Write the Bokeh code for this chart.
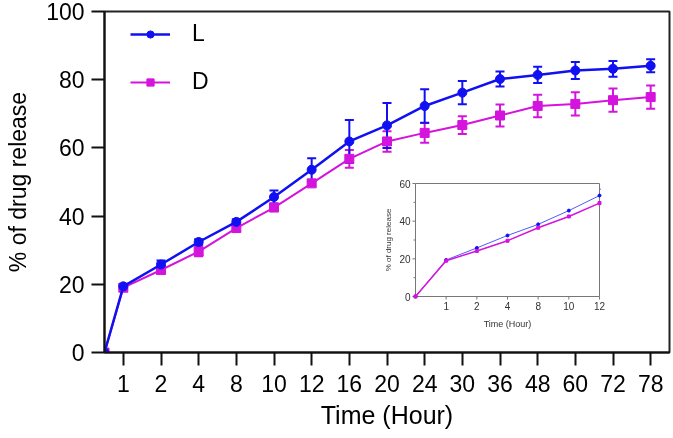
import math
from bokeh.plotting import figure
from bokeh.models import (FixedTicker, Whisker, ColumnDataSource, Legend, LegendItem,
                          Range1d, TeeHead)
from bokeh.embed import file_html
from bokeh.resources import INLINE

# ---- data ----
times = ["0", "1", "2", "4", "8", "10", "12", "16", "20", "24", "30", "36", "48", "60", "72", "78"]
L_mean = [0, 19.4, 25.8, 32.4, 38.3, 45.6, 53.6, 61.9, 66.6, 72.3, 76.2, 80.2, 81.4, 82.7, 83.2, 84.1]
L_err = [0, 0.6, 1.2, 0.8, 0.8, 1.9, 3.4, 6.3, 6.6, 4.9, 3.4, 2.2, 2.4, 2.5, 2.3, 1.9]
D_mean = [0, 19.0, 24.2, 29.6, 36.5, 42.5, 49.6, 56.8, 61.9, 64.4, 66.7, 69.5, 72.3, 72.9, 74.0, 74.9]
D_err = [0, 0.5, 0.9, 1.4, 0.9, 1.0, 0.8, 2.6, 3.0, 2.9, 2.6, 3.2, 3.3, 3.4, 3.4, 3.4]
y_ticks = [0, 20, 40, 60, 80, 100]
inset_n = 7                     # inset shows 0..12 h
inset_y_ticks = [0, 20, 40, 60]
inset_y_minor = [10, 30, 50]

BLUE = "#1010f2"
BLUE_L = "#4a5cff"
MAG = "#d414dc"
FONT = "Liberation Sans"
GREY = "#777777"

W, H = 673, 438
FL, FR, FT, FB = 104, 669, 11, 352      # main frame edges (px)
IL, IR, IT, IB = 415, 599, 183, 296     # inset frame edges (px)

xpos = [float(i) for i in range(len(times))]
xpos[0] = 0.5   # origin sits half a step left of "1"

def src(x, m, e):
    return ColumnDataSource(dict(x=x, y=m, up=[a + b for a, b in zip(m, e)],
                                 lo=[a - b for a, b in zip(m, e)]))

sL = src(xpos, L_mean, L_err)
sD = src(xpos, D_mean, D_err)

p = figure(width=W, height=H, output_backend="svg", toolbar_location=None,
           x_range=Range1d(0.5, len(times) - 0.5), y_range=Range1d(y_ticks[0], y_ticks[-1]),
           min_border_left=FL, min_border_right=W - FR, min_border_top=FT, min_border_bottom=H - FB)
p.styles = {"position": "fixed", "left": "0px", "top": "0px"}
p.grid.visible = False
p.outline_line_color = "#222222"
p.outline_line_width = 2
p.background_fill_color = "white"
p.border_fill_color = "white"

for ax in (p.xaxis[0], p.yaxis[0]):
    ax.axis_line_width = 2
    ax.axis_line_color = "#111111"
    ax.major_tick_line_width = 2
    ax.major_tick_line_color = "#111111"
    ax.major_tick_in = 0
    ax.major_tick_out = 13
    ax.minor_tick_line_color = None
    ax.major_label_text_font = FONT
    ax.major_label_text_font_size = "23px"
    ax.major_label_text_color = "black"
    ax.axis_label_text_font = FONT
    ax.axis_label_text_font_style = "normal"
    ax.axis_label_text_color = "black"

p.xaxis.ticker = FixedTicker(ticks=xpos[1:])
p.xaxis.major_label_overrides = {xpos[i]: times[i] for i in range(1, len(times))}
p.xaxis.major_label_standoff = 9
p.xaxis.axis_label = "Time (Hour)"
p.xaxis.axis_label_text_font_size = "25px"
p.xaxis.axis_label_standoff = 6

p.yaxis.ticker = FixedTicker(ticks=y_ticks)
p.yaxis.major_label_standoff = 7
p.yaxis.axis_label = "% of drug release"
p.yaxis.axis_label_text_font_size = "23px"
p.yaxis.axis_label_standoff = 12

for s, c in ((sD, MAG), (sL, BLUE)):
    p.add_layout(Whisker(source=s, base="x", upper="up", lower="lo", line_color=c, line_width=2,
                         upper_head=TeeHead(size=9, line_color=c, line_width=2),
                         lower_head=TeeHead(size=9, line_color=c, line_width=2)))

lD = p.line("x", "y", source=sD, color=MAG, line_width=2)
mD = p.scatter("x", "y", source=sD, marker="square", size=9, color=MAG)
lL = p.line("x", "y", source=sL, color=BLUE, line_width=2.5)
mL = p.scatter("x", "y", source=sL, marker="circle", size=9, color=BLUE)

legend = Legend(items=[LegendItem(label="L", renderers=[lL, mL]),
                       LegendItem(label="D", renderers=[lD, mD])],
                location=(26, 257), orientation="vertical", border_line_color=None,
                background_fill_alpha=0, padding=0, margin=0, spacing=21,
                glyph_width=40, glyph_height=18, label_height=24, label_standoff=22,
                label_text_font=FONT, label_text_font_size="23px", label_text_color="black")
p.add_layout(legend)

# ---- inset, drawn on its own scales inside the main frame ----
xmax_i = inset_n - 1
ypx = (IB - IT) / (inset_y_ticks[-1] - inset_y_ticks[0])   # px per inset y-unit
xpx = (IR - IL) / xmax_i                                   # px per inset x-unit
p.extra_x_ranges = {"ix": Range1d(-(IL - FL) / xpx, xmax_i + (FR - IR) / xpx)}
p.extra_y_ranges = {"iy": Range1d(inset_y_ticks[0] - (FB - IB) / ypx,
                                  inset_y_ticks[-1] + (IT - FT) / ypx)}
R = dict(x_range_name="ix", y_range_name="iy")

def dy(px):  # screen px -> inset y units
    return px / ypx

def dx(px):
    return px / xpx

p.quad(left=[0], right=[xmax_i], bottom=[inset_y_ticks[0]], top=[inset_y_ticks[-1]],
       fill_color="white", line_color=GREY, line_width=1, **R)

ix = list(range(inset_n))
# x ticks & labels
p.segment(x0=ix[1:], x1=ix[1:], y0=[0] * (inset_n - 1), y1=[-dy(3)] * (inset_n - 1),
          line_color=GREY, line_width=1, **R)
p.text(x=ix[1:], y=[-dy(5)] * (inset_n - 1), text=times[1:inset_n], text_align="center",
       text_baseline="top", text_font={"value": FONT}, text_font_size="10px",
       text_color="#333333", **R)
p.text(x=[xmax_i / 2], y=[-dy(22)], text=["Time (Hour)"], text_align="center",
       text_baseline="top", text_font={"value": FONT}, text_font_size="9px",
       text_color="#333333", **R)
# y ticks & labels
p.segment(x0=[0] * 4, x1=[-dx(3)] * 4, y0=inset_y_ticks, y1=inset_y_ticks,
          line_color=GREY, line_width=1, **R)
p.segment(x0=[0] * 3, x1=[-dx(2)] * 3, y0=inset_y_minor, y1=inset_y_minor,
          line_color=GREY, line_width=1, **R)
p.text(x=[-dx(5)] * 4, y=inset_y_ticks, text=[str(v) for v in inset_y_ticks],
       text_align="right", text_baseline="middle", text_font={"value": FONT},
       text_font_size="10px", text_color="#333333", **R)
p.text(x=[-dx(27)], y=[(inset_y_ticks[0] + inset_y_ticks[-1]) / 2], text=["% of drug release"],
       angle=math.pi / 2, text_align="center", text_baseline="middle",
       text_font={"value": FONT}, text_font_size="8px", text_color="#333333", **R)

iL = src(ix, L_mean[:inset_n], L_err[:inset_n])
iD = src(ix, D_mean[:inset_n], D_err[:inset_n])
for s, c in ((iL, BLUE_L), (iD, MAG)):
    p.add_layout(Whisker(source=s, base="x", upper="up", lower="lo", line_color=c, line_width=1,
                         upper_head=TeeHead(size=3, line_color=c, line_width=1),
                         lower_head=TeeHead(size=3, line_color=c, line_width=1), **R))
p.line("x", "y", source=iL, color=BLUE_L, line_width=1, **R)
p.scatter("x", "y", source=iL, marker="circle", size=3, color=BLUE, **R)
p.line("x", "y", source=iD, color=MAG, line_width=1.5, **R)
p.scatter("x", "y", source=iD, marker="square", size=3, color=MAG, **R)

open("out.html", "w").write(file_html(p, INLINE))
